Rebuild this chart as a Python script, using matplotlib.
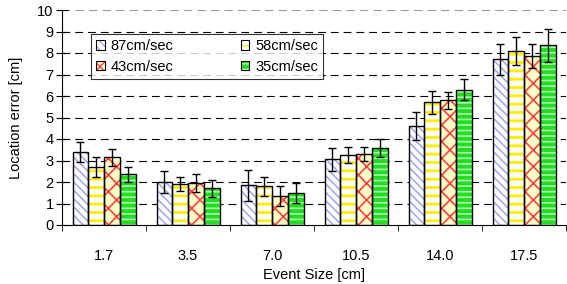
import matplotlib.pyplot as plt
import numpy as np

plt.rcParams['font.family'] = ['Liberation Sans', 'DejaVu Sans']

# данные
sizes = ['1.7', '3.5', '7.0', '10.5', '14.0', '17.5']
speeds = ['87cm/sec', '58cm/sec', '43cm/sec', '35cm/sec']
err_87 = [3.4, 2.0, 1.85, 3.05, 4.6, 7.7]
err_58 = [2.7, 1.9, 1.8, 3.25, 5.7, 8.1]
err_43 = [3.15, 1.95, 1.35, 3.3, 5.8, 7.85]
err_35 = [2.35, 1.7, 1.5, 3.6, 6.3, 8.35]
sd_87 = [0.47, 0.5, 0.72, 0.53, 0.65, 0.7]
sd_58 = [0.45, 0.33, 0.44, 0.37, 0.53, 0.65]
sd_43 = [0.4, 0.4, 0.46, 0.33, 0.4, 0.56]
sd_35 = [0.37, 0.38, 0.47, 0.42, 0.5, 0.77]

values = [err_87, err_58, err_43, err_35]
sds = [sd_87, sd_58, sd_43, sd_35]
# (заливка, цвет штриховки, штриховка, толщина штриховки)
styles = [('white', '#a8a8f0', '\\\\\\\\', 1.2),
          ('white', '#ffee00', '--', 2.0),
          ('#ffffc8', '#ff4040', 'xx', 1.2),
          ('#22dd22', '#b0ffb0', '---', 1.2)]

fs = 10.5
fig = plt.figure(figsize=(5.67, 2.84), dpi=100)
ax = fig.add_axes([62 / 567, 59 / 284, 504 / 567, 215 / 284])

x = np.arange(len(sizes))
w = 0.1875
handles = []
for i in range(4):
    pos = x - 1.5 * w + i * w
    face, hc, hatch, hlw = styles[i]
    with plt.rc_context({'hatch.linewidth': hlw}):
        ax.bar(pos, values[i], w, color=face, edgecolor=hc, hatch=hatch,
               linewidth=0, zorder=2)
        h1 = plt.Rectangle((0, 0), 1, 1, facecolor=face, edgecolor=hc,
                           hatch=hatch, linewidth=0)
    ax.bar(pos, values[i], w, fill=False, edgecolor='black', linewidth=1, zorder=3)
    ax.errorbar(pos, values[i], yerr=sds[i], fmt='none', ecolor='black',
                elinewidth=1, capsize=3, capthick=1, zorder=4)
    h2 = plt.Rectangle((0, 0), 1, 1, fill=False, edgecolor='black', linewidth=0.8)
    handles.append((h1, h2))

# сетка
for yv in range(1, 10):
    ax.axhline(yv, color='black', linestyle=(0, (7, 4.5)), linewidth=0.8, zorder=1)
ax.axhline(10, color='#999999', linestyle=(0, (4, 2.5)), linewidth=1.5, zorder=1)

ax.set_xlim(-0.5, 5.5)
ax.set_ylim(0, 10)
ax.set_yticks(range(0, 11))
ax.set_xticks(x)
ax.set_xticklabels(sizes)
ax.set_xticks(np.arange(-0.5, 5.6, 1), minor=True)
ax.tick_params(axis='x', which='major', length=0, pad=17, labelsize=fs)
ax.tick_params(axis='x', which='minor', length=4, direction='out')
ax.tick_params(axis='y', direction='inout', length=8, pad=2, labelsize=fs)
for s in ['top', 'right']:
    ax.spines[s].set_visible(False)

ax.set_xlabel('Event Size [cm]', fontsize=fs, labelpad=4)
ax.set_ylabel('Location error [cm]', fontsize=fs, labelpad=10)

order = [0, 2, 1, 3]
leg = ax.legend([handles[k] for k in order], [speeds[k] for k in order],
                ncol=2, loc='upper left', bbox_to_anchor=(29 / 504, 1 - 24 / 215),
                fontsize=fs, frameon=True, fancybox=False, edgecolor='black',
                handlelength=0.6, handleheight=0.6, columnspacing=4.6,
                borderpad=0.35, labelspacing=0.45, handletextpad=0.4,
                borderaxespad=0)
leg.get_frame().set_linewidth(0.8)
leg.set_zorder(5)

plt.savefig('out.png', dpi=100)
